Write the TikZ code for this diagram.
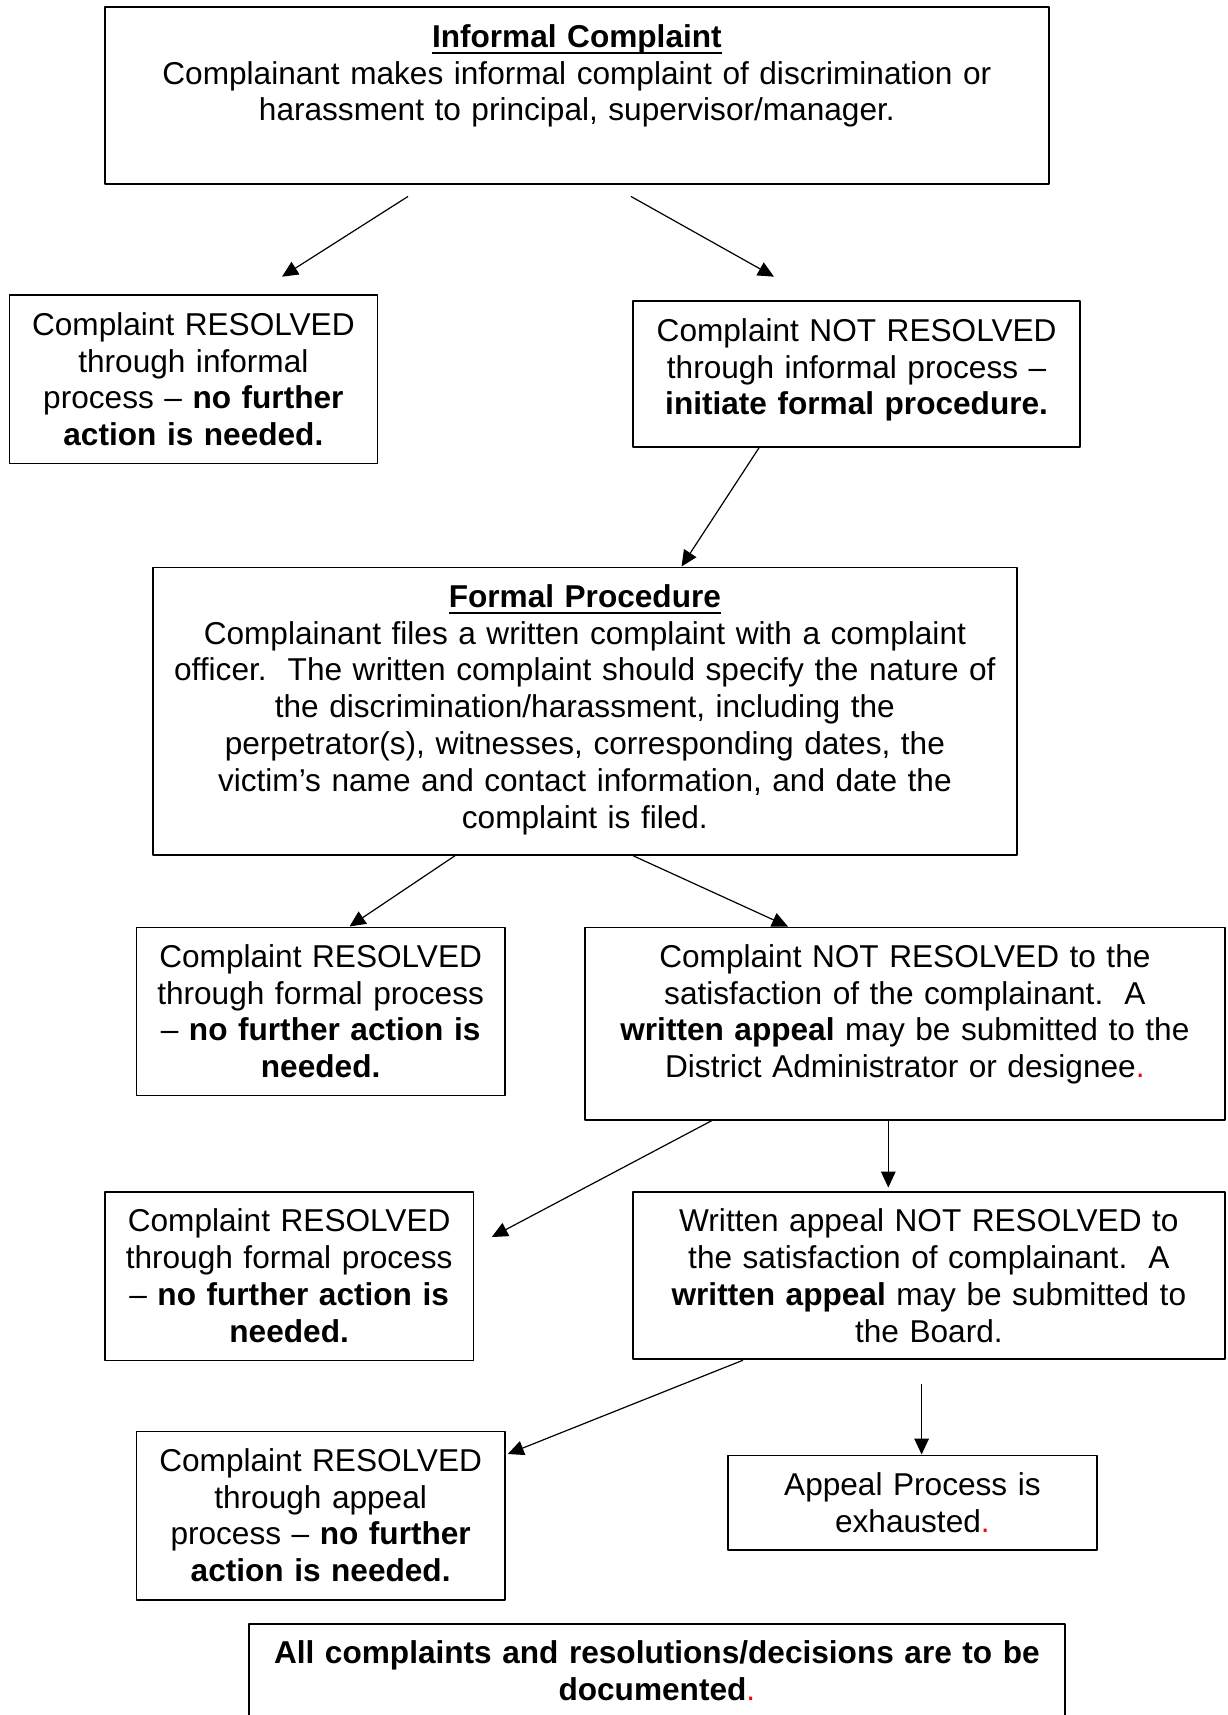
\documentclass[tikz,border=0pt]{standalone}
\usepackage{fontspec}
\setmainfont{Liberation Sans}
\usetikzlibrary{arrows.meta,calc}
\newcommand\titleline[1]{\setbox0\hbox{\bfseries #1}\rlap{\rule[-2.4pt]{\wd0}{0.75pt}}\box0}
\newcommand\redstop{\textcolor{red}{.}}
\begin{document}
\begin{tikzpicture}[x=0.375pt, y=-0.375pt, >={Triangle[length=6pt,width=5.5pt]}, line join=round,
	box/.style={draw, line width=0.65pt, anchor=north west, inner sep=0pt, align=center, text height=15pt, font=\fontsize{11.85pt}{13.8pt}\selectfont},
	link/.style={->, line width=0.45pt}]
			\useasboundingbox (0,0) rectangle (1227,1715);
			% boxes
			\node[box, text width=354pt, text depth=51.2pt] (inform) at (104,6.5) {\titleline{Informal Complaint}\\Complainant makes informal complaint of discrimination or\\harassment to principal, supervisor/manager.};
			\node[box, text width=138pt, text depth=48pt] (resinf) at (8.5,294.5) {Complaint RESOLVED\\through informal\\process – \textbf{no further}\\\textbf{action is needed.}};
			\node[box, text width=167.8pt, text depth=39.6pt] (notinf) at (632,300.5) {Complaint NOT RESOLVED\\through informal process –\\\textbf{initiate formal procedure.}};
			\node[box, text width=324pt, text depth=92.8pt] (formal) at (152,566.5) {\titleline{Formal Procedure}\\Complainant files a written complaint with a complaint\\officer.\ \ The written complaint should specify the nature of\\the discrimination/harassment, including the\\perpetrator(s), witnesses, corresponding dates, the\\victim’s name and contact information, and date the\\complaint is filed.};
			\node[box, text width=138.2pt, text depth=48pt] (resform) at (135.5,926.5) {Complaint RESOLVED\\through formal process\\– \textbf{no further action is}\\\textbf{needed.}};
			\node[box, text width=240pt, text depth=57.2pt] (notform) at (584,926.5) {Complaint NOT RESOLVED to the\\satisfaction of the complainant.\ \ A\\\textbf{written appeal} may be submitted to the\\District Administrator or designee\redstop};
			\node[box, text width=138.2pt, text depth=48.2pt] (resdist) at (104,1191) {Complaint RESOLVED\\through formal process\\– \textbf{no further action is}\\\textbf{needed.}};
			\node[box, text width=222pt, text depth=47.8pt] (notdist) at (632,1191) {Written appeal NOT RESOLVED to\\the satisfaction of complainant.\ \ A\\\textbf{written appeal} may be submitted to\\the Board.};
			\node[box, text width=138.2pt, text depth=48.2pt] (resappeal) at (135.5,1430.5) {Complaint RESOLVED\\through appeal\\process – \textbf{no further}\\\textbf{action is needed.}};
			\node[box, text width=138.4pt, text depth=20.6pt] (exhausted) at (727,1454.5) {Appeal Process is\\exhausted\redstop};
			\node[box, text width=306pt, text depth=45pt] (documented) at (248,1623) {\textbf{All complaints and resolutions/decisions are to be}\\\textbf{documented}\redstop};
			% arrows
			\draw[link] ($(inform.south west)+(304,11.7)$) -- ($(resinf.north west)+(273.5,-17.8)$);
			\draw[link] ($(inform.south west)+(527,11.7)$) -- ($(notinf.north west)+(142,-23.8)$);
			\draw[link] ($(notinf.south west)+(127,0)$) -- ($(formal.north west)+(529.5,0)$);
			\draw[link] ($(formal.south west)+(303,0)$) -- ($(resform.north west)+(214,0)$);
			\draw[link] ($(formal.south west)+(481,0)$) -- ($(notform.north west)+(204,0)$);
			\draw[link] ($(notform.south west)+(127.5,0)$) -- ($(resdist.north east)+(17.5,46)$);
			\draw[link] ($(notform.south west)+(304.3,0)$) -- ($(notdist.north west)+(256.3,-3.5)$);
			\draw[link] ($(notdist.south west)+(111,0)$) -- ($(resappeal.north east)+(2,23.5)$);
			\draw[link] ($(notdist.south west)+(289.6,23.4)$) -- ($(exhausted.north west)+(194.6,0)$);
\end{tikzpicture}
\end{document}
